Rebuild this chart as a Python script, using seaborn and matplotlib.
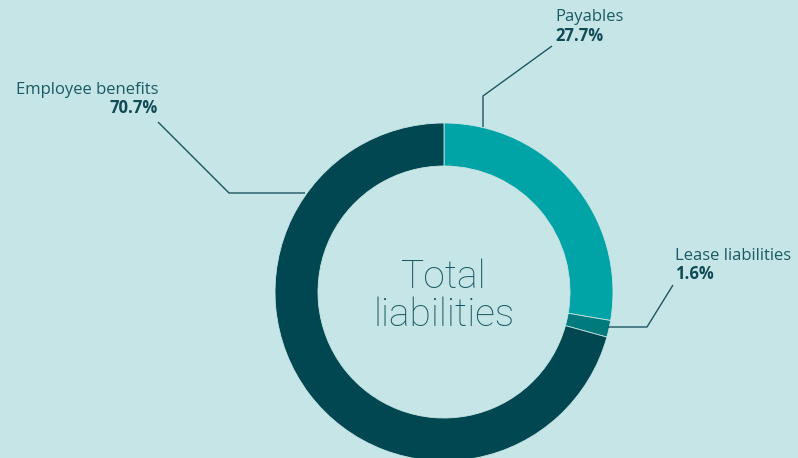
import matplotlib
matplotlib.use("Agg")
import matplotlib.pyplot as plt
import seaborn as sns

categories = ["Payables", "Lease liabilities", "Employee benefits"]
values = [27.7, 1.6, 70.7]
value_labels = ["27.7%", "1.6%", "70.7%"]

sns.set_theme(style="white")
plt.rcParams['font.family'] = ['Open Sans', 'DejaVu Sans']

BG = "#c6e5e6"
colors = ["#00a3a6", "#007a7c", "#004751"]
TXT = "#1b5a64"
NUM = "#0f4a55"
LINE = "#1d5661"

W, H = 798, 458
fig = plt.figure(figsize=(W / 100, H / 100), dpi=100, facecolor=BG)
ax = fig.add_axes([0, 0, 1, 1])
ax.set_facecolor(BG)

cx, cy = 444, H - 292
R = 169
ax.pie(values, colors=colors, startangle=90, counterclock=False,
       radius=R, center=(cx, cy), frame=True,
       wedgeprops=dict(width=43, linewidth=0.6, edgecolor=BG))
ax.set_xlim(0, W)
ax.set_ylim(0, H)
ax.set_aspect("equal")
ax.axis("off")

def leader(pts):
    xs = [p[0] for p in pts]
    ys = [H - p[1] for p in pts]
    ax.plot(xs, ys, color=LINE, lw=1.0, solid_capstyle="butt")

leader([(483, 127), (483, 96), (552, 46)])
leader([(305, 193), (229, 193), (158, 122)])
leader([(608, 327), (647, 327), (673, 285)])

fs = 12
ax.text(555, H - 17, categories[0], ha="left", va="center", fontsize=fs, color=TXT)
ax.text(555, H - 36, value_labels[0], ha="left", va="center", fontsize=fs, color=NUM, fontweight="bold")
ax.text(675, H - 256, categories[1], ha="left", va="center", fontsize=fs, color=TXT)
ax.text(675, H - 274, value_labels[1], ha="left", va="center", fontsize=fs, color=NUM, fontweight="bold")
ax.text(158, H - 90, categories[2], ha="right", va="center", fontsize=fs, color=TXT)
ax.text(158, H - 108, value_labels[2], ha="right", va="center", fontsize=fs, color=NUM, fontweight="bold")

ax.text(cx, H - 296, "Total\nliabilities", ha="center", va="center", fontsize=28,
        color=TXT, fontweight="light", linespacing=1.0, family=['Roboto', 'DejaVu Sans'])

fig.savefig("out.png", dpi=100, facecolor=BG)
